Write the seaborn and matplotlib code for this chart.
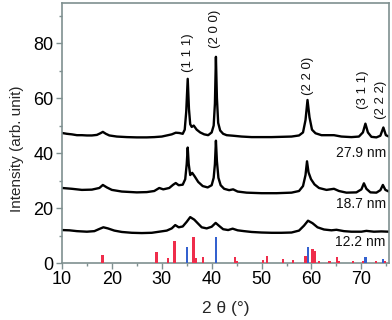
import matplotlib
matplotlib.use("Agg")
import matplotlib.pyplot as plt
import seaborn as sns
import pandas as pd
from matplotlib.ticker import MultipleLocator

sns.set_theme(style="white")
plt.rcParams['font.family'] = ['Liberation Sans', 'DejaVu Sans']

# ---- data: 27.9 nm pattern ----
x_279 = [10, 11, 12, 13, 14, 15, 16, 17, 17.7, 18.2, 18.8, 19.5, 21, 23, 25, 27, 28.5, 30, 31, 32, 32.8,
         33.5, 34.2, 34.6, 34.9, 35.2, 35.45, 35.7, 36.0, 36.4, 37, 37.7, 38.5, 39.3, 40.0, 40.4, 40.65,
         40.85, 41.05, 41.3, 41.7, 42.3, 43, 44.3, 46, 48, 50, 52, 54, 56, 57.5, 58.3, 58.8, 59.2, 59.6,
         60.1, 60.8, 62, 64.5, 66, 68, 69.5, 70.3, 70.8, 71.3, 72, 73, 73.8, 74.4, 74.9, 75.5]
y_279 = [47.3, 47.0, 46.8, 46.5, 46.5, 46.4, 46.4, 46.6, 47.2, 47.7, 47.0, 46.4, 46.0, 45.8, 45.7, 45.7,
         45.8, 46.0, 46.4, 46.8, 47.4, 47.3, 47.0, 48.5, 55, 67, 56, 50.5, 49.5, 50.0, 48.5, 47.5, 46.8,
         46.5, 47.5, 50, 58, 75, 60, 51, 48.2, 47.0, 46.5, 46.3, 46.0, 45.8, 45.8, 45.8, 45.9, 46.0, 46.4,
         47.5, 52, 59.3, 53, 48.5, 47.2, 46.5, 46.5, 46.0, 45.8, 46.0, 47.5, 50.7, 47.5, 45.9, 45.7, 46.3,
         49.3, 46.5, 46.0]

# ---- data: 18.7 nm pattern ----
x_187 = [10, 12, 14, 16, 17.5, 18.2, 19, 20, 22, 25, 27, 28.5, 29.5, 30.3, 31.5, 32.3, 32.8, 33.4, 34.2,
         34.7, 35.0, 35.2, 35.4, 35.7, 36.1, 36.6, 37.3, 38.2, 39.2, 40.0, 40.4, 40.65, 40.85, 41.05,
         41.35, 41.8, 42.5, 43.5, 44.3, 45.2, 47, 50, 53, 56, 57.5, 58.3, 58.8, 59.1, 59.4, 59.9, 60.6,
         61.5, 63, 64.5, 65.5, 67, 69, 70.0, 70.5, 71.0, 71.8, 73, 73.8, 74.3, 74.8, 75.5]
y_187 = [27.3, 27.0, 26.6, 26.7, 27.3, 28.4, 27.5, 26.6, 26.0, 25.7, 25.8, 26.2, 27.3, 26.8, 27.3, 28.5,
         29.1, 28.3, 28.5, 30.5, 36, 42, 36, 32, 32.8, 31.5, 29.5, 28.0, 27.5, 28.3, 31, 36, 44.5, 37,
         31, 28.3, 27.0, 26.5, 26.8, 26.0, 25.6, 25.4, 25.4, 25.6, 26.2, 28.0, 32, 37, 33, 30.5, 28.6,
         27.3, 26.6, 27.0, 26.2, 25.6, 25.7, 26.8, 29.0, 27.0, 25.7, 25.6, 26.5, 28.4, 26.6, 26.0]

# ---- data: 12.2 nm pattern ----
x_122 = [10, 11.5, 13, 15, 16.5, 17.5, 18.3, 19.2, 20.5, 22, 24, 26, 28, 29.5, 31, 32.0, 32.7, 33.4, 34.2,
         35.0, 35.7, 36.5, 37.3, 38.0, 39.0, 40.0, 40.8, 41.5, 42.3, 43.3, 44.2, 45.2, 46.5, 48, 50, 52,
         54, 56, 57.5, 58.5, 59.3, 60.2, 61.2, 62.5, 64, 65, 66.5, 68, 70, 71, 72.5, 74, 75.5]
y_122 = [12.0, 11.9, 11.6, 11.4, 11.6, 12.4, 13.0, 12.6, 11.8, 11.3, 11.0, 10.9, 11.0, 11.4, 11.8, 12.6,
         13.8, 13.0, 13.3, 15.0, 16.7, 15.8, 14.3, 13.0, 12.6, 13.2, 14.6, 13.5, 12.3, 12.0, 12.5, 11.9,
         11.6, 11.3, 11.1, 11.0, 11.0, 11.1, 11.8, 13.6, 15.4, 14.5, 13.0, 12.2, 11.9, 12.1, 11.6, 11.4,
         11.4, 11.7, 11.4, 11.5, 11.4]

# ---- reference sticks ----
red_pos = [18.1, 28.9, 31.3, 32.6, 36.4, 36.8, 38.3, 44.7, 45.1, 50.3, 51.1, 54.3, 56.3, 58.8, 60.2,
           60.7, 61.5, 63.6, 65.1, 65.5, 68.3, 70.3, 72.9, 74.7]
red_h = [3.1, 4.0, 1.9, 8.0, 9.3, 2.0, 2.3, 2.3, 0.7, 1.1, 2.7, 1.4, 1.1, 2.7, 5.0,
         4.5, 0.7, 0.7, 2.3, 0.8, 0.8, 0.8, 0.8, 0.8]
blue_pos = [35.1, 40.9, 59.3, 70.8, 74.3]
blue_h = [5.7, 9.3, 5.7, 2.1, 1.6]

hkl_labels = ["(1 1 1)", "(2 0 0)", "(2 2 0)", "(3 1 1)", "(2 2 2)"]
hkl_x = [35.2, 40.7, 59.2, 70.4, 74.0]
hkl_y = [76.5, 85.0, 68.0, 63.0, 59.5]

size_labels = ["27.9 nm", "18.7 nm", "12.2 nm"]
size_y = [40.0, 21.5, 7.6]

spine_col = "#7f9090"

fig = plt.figure(figsize=(3.92, 3.20), dpi=100)
ax = fig.add_axes([0.158, 0.178, 0.834, 0.812])

for xs, ys in [(x_279, y_279), (x_187, y_187), (x_122, y_122)]:
    df = pd.DataFrame({"x": xs, "y": ys})
    sns.lineplot(data=df, x="x", y="y", ax=ax, color="black", lw=1.7, sort=False, estimator=None)

ax.bar(red_pos, red_h, width=0.5, color="#ef2d4b", linewidth=0, zorder=3)
ax.bar(blue_pos, blue_h, width=0.5, color="#3461cf", linewidth=0, zorder=3)

for t, xx, yy in zip(hkl_labels, hkl_x, hkl_y):
    ax.text(xx, yy, t, rotation=90, ha="center", va="center", fontsize=9.5, color="#111111")
for t, yy in zip(size_labels, size_y):
    ax.text(74.9, yy, t, ha="right", va="center", fontsize=10, color="#111111")

ax.set_xlim(10, 75.5)
ax.set_ylim(0, 94.5)
ax.xaxis.set_major_locator(MultipleLocator(10))
ax.xaxis.set_minor_locator(MultipleLocator(5))
ax.yaxis.set_major_locator(MultipleLocator(20))
ax.yaxis.set_minor_locator(MultipleLocator(10))
ax.tick_params(which="major", direction="out", length=4, width=1, color=spine_col,
               labelsize=13, labelcolor="black", bottom=True, left=True, pad=2)
ax.tick_params(which="minor", direction="out", length=2.5, width=1, color=spine_col,
               bottom=True, left=True)
for s in ax.spines.values():
    s.set_color(spine_col)
    s.set_linewidth(1.2)
ax.set_xlabel("2 θ (°)", fontsize=12.5, labelpad=9)
ax.set_ylabel("Intensity (arb. unit)", fontsize=11, labelpad=4)
ax.yaxis.set_label_coords(-0.115, 0.44)
ax.grid(False)

fig.savefig("out.png", dpi=100)
